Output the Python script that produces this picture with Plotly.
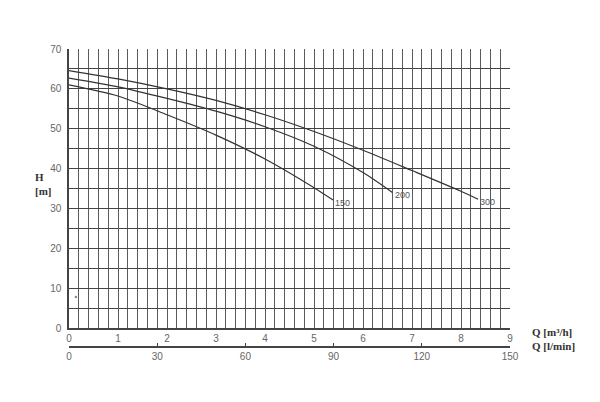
import plotly.graph_objects as go

# Pump curves (Q in m3/h, H in m)
q_150 = [0, 1, 2, 3, 4, 5, 5.39]
h_150 = [61.0, 58.2, 53.5, 48.4, 42.4, 35.2, 32.1]

q_200 = [0, 1, 2, 3, 4, 5, 6, 6.6]
h_200 = [62.7, 60.5, 57.6, 54.4, 50.5, 45.6, 39.0, 34.0]

q_300 = [0, 1, 2, 3, 4, 5, 6, 7, 8, 8.35]
h_300 = [64.6, 62.5, 60.0, 57.1, 53.5, 49.3, 44.6, 39.5, 34.3, 32.3]

curve_labels = ["150", "200", "300"]
label_q = [5.59, 6.8, 8.55]
label_h = [31.3, 33.3, 31.6]

q_ticks = [0, 1, 2, 3, 4, 5, 6, 7, 8, 9]
lmin_ticks = [0, 30, 60, 90, 120, 150]
h_ticks = [0, 10, 20, 30, 40, 50, 60, 70]

# small stray mark seen in the original
mark_q = [0.14]
mark_h = [7.8]

fig = go.Figure()
for q, h in [(q_150, h_150), (q_200, h_200), (q_300, h_300)]:
    fig.add_trace(go.Scatter(x=q, y=h, mode="lines",
                             line=dict(color="#333333", width=1.2, shape="spline", smoothing=0.8),
                             showlegend=False, hoverinfo="skip"))

fig.add_trace(go.Scatter(x=mark_q, y=mark_h, mode="markers", marker=dict(size=2.5, color="#888888"),
                         showlegend=False, hoverinfo="skip"))

# invisible trace on the l/min axis
fig.add_trace(go.Scatter(x=[0, 150], y=[0, 0], xaxis="x2", mode="lines", line=dict(width=0),
                         showlegend=False, hoverinfo="skip"))

for t, q, h in zip(curve_labels, label_q, label_h):
    fig.add_annotation(x=q, y=h, text=t, showarrow=False, xref="x", yref="y",
                       font=dict(size=9, color="#555555", family="Liberation Sans"))

tick_font = dict(size=10, color="#666666", family="Liberation Sans")
vgrid_c = "#5a5a5a"
hgrid_c = "#444444"

# page body adds an 8px offset; target plot area: x 69..510, y 49..328 ; second axis at y=347
OFF = 8
L, R, T, B2 = 69 - OFF, 510 - OFF, 49 - OFF, 347 - OFF
ydom0 = (B2 - (328 - OFF)) / (B2 - T)

fig.update_layout(
    width=600, height=402,
    margin=dict(l=L, r=600 - R, t=T, b=402 - B2, pad=0),
    paper_bgcolor="white", plot_bgcolor="white",
    xaxis=dict(range=[0, 9], tickvals=q_ticks, ticks="", showgrid=True, gridcolor=vgrid_c, gridwidth=1,
               minor=dict(dtick=0.2, showgrid=True, gridcolor=vgrid_c, gridwidth=1),
               showline=True, linecolor="#444444", linewidth=1.5, mirror=False, zeroline=False,
               tickfont=tick_font, anchor="y", automargin=False),
    xaxis2=dict(range=[0, 150], tickvals=lmin_ticks, overlaying="x", anchor="free", position=0, side="bottom",
                showgrid=False, showline=True, linecolor="#444444", linewidth=1.5, ticks="inside", ticklen=3,
                tickcolor="#444444", zeroline=False, tickfont=tick_font, automargin=False),
    yaxis=dict(range=[0, 70], tickvals=h_ticks, domain=[ydom0, 1], ticks="", showgrid=True, gridcolor=hgrid_c,
               gridwidth=1, minor=dict(dtick=5, showgrid=True, gridcolor=hgrid_c, gridwidth=1),
               showline=True, linecolor="#444444", linewidth=1.5, zeroline=False, tickfont=tick_font,
               ticklabelstandoff=4, automargin=False),
)

def px(x):
    return (x - OFF - L) / (R - L)

def py(y):
    return (B2 - (y - OFF)) / (B2 - T)

title_font = dict(size=11, color="#333333", family="Liberation Serif")
fig.add_annotation(x=px(33), y=py(177), xref="paper", yref="paper", text="<b>H</b>", showarrow=False, font=title_font)
fig.add_annotation(x=px(33), y=py(191), xref="paper", yref="paper", text="<b>[m]</b>", showarrow=False, font=title_font)
fig.add_annotation(x=px(530), y=py(340), xref="paper", yref="paper", text="<b>Q [m³/h]</b>", showarrow=False,
                   xanchor="left", font=title_font)
fig.add_annotation(x=px(530), y=py(354), xref="paper", yref="paper", text="<b>Q [l/min]</b>", showarrow=False,
                   xanchor="left", font=title_font)

fig.write_html("out.html")
